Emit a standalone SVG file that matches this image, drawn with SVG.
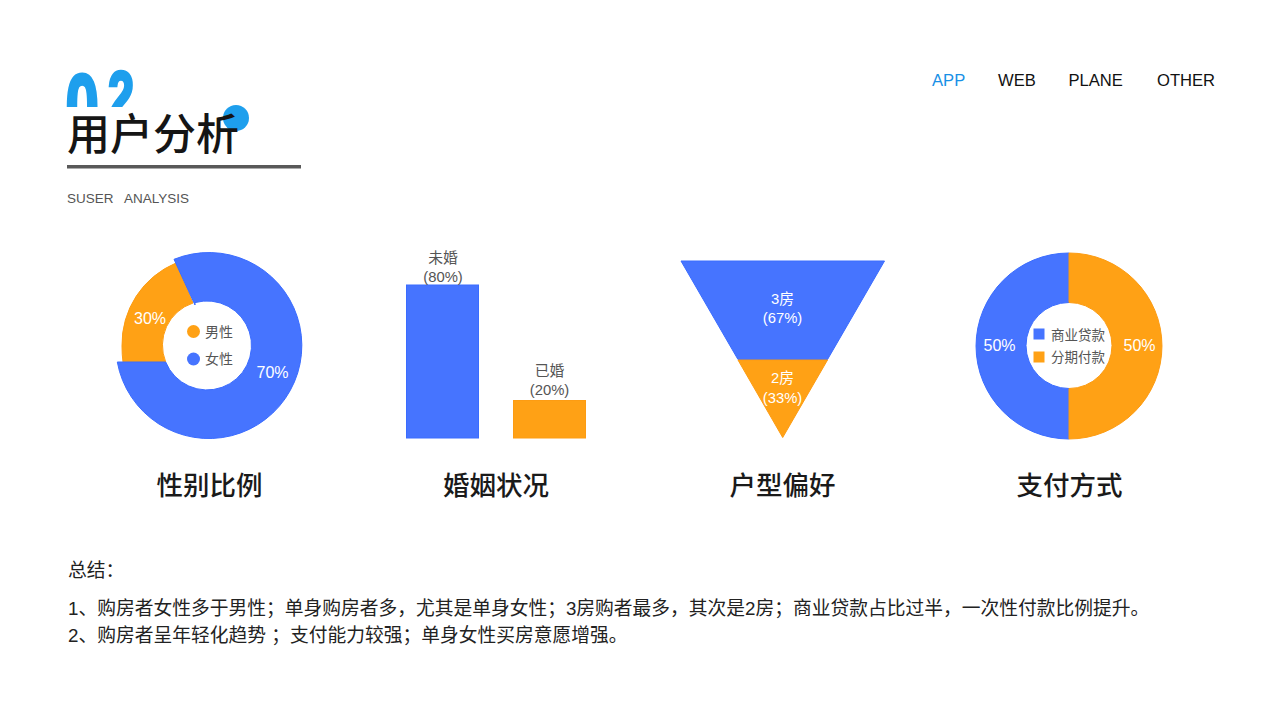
<svg xmlns="http://www.w3.org/2000/svg" width="1280" height="720" viewBox="0 0 1280 720">
<style>
text{font-family:"Liberation Sans","Noto Sans CJK SC",sans-serif}
.b{fill:#4674ff;stroke:#3a6cff;stroke-width:1}
.o{fill:#ffa115;stroke:#fd9c12;stroke-width:1}
.lg{font-size:14px;fill:#555}
.w{font-size:16px;fill:#fff}
.w2{font-size:14.8px;fill:#fff}
.g{font-size:14.8px;fill:#555}
.t{font-size:26.500px;fill:#1a1a1a;text-anchor:middle;font-weight:500}
.nav{font-size:16.600px;fill:#111}
.m{text-anchor:middle}
.s{font-size:18.750px;fill:#222}
</style>
<defs><clipPath id="logoClip"><rect x="60" y="40" width="90" height="31.300"/></clipPath></defs>
<g id="header">
<text transform="scale(1,1.500)" clip-path="url(#logoClip)" font-weight="700" fill="#1e9fed" stroke="#1e9fed" stroke-width="2.200" style="font-family:'Liberation Sans',sans-serif"><tspan x="65.500" y="92" font-size="60">0</tspan><tspan x="108" y="81" font-size="47">2</tspan></text>
<circle cx="236" cy="118" r="13" fill="#1e9fed"/>
<text x="67" y="150" font-size="43" font-weight="500" fill="#151515" style="font-family:'Noto Sans CJK SC',sans-serif">用户分析</text>
<rect x="67" y="165" width="234" height="3.500" fill="#595959"/>
<text x="67" y="203" font-size="13.500" fill="#555" xml:space="preserve">SUSER   ANALYSIS</text>
</g>
<g id="nav">
<text x="932" y="86" class="nav" style="fill:#1890e6">APP</text>
<text x="998" y="86" class="nav">WEB</text>
<text x="1068.500" y="86" class="nav">PLANE</text>
<text x="1157" y="86" class="nav">OTHER</text>
</g>
<g id="gender">
<path class="o" d="M176,263 A88 88 0 0 0 122,346 Q122,355 123,362 L165.700,362 A44.500 44.500 0 0 1 193,303 Z"/>
<path class="b" d="M174,259.300 A93 93 0 1 1 117.300,362 L165.700,362 A44.500 44.500 0 1 0 195,302.600 L195,305 Z"/>
<text x="150" y="324" class="w m">30%</text>
<text x="272.500" y="378" class="w m">70%</text>
<circle cx="193.500" cy="331.500" r="6.500" fill="#ffa115"/>
<circle cx="193.500" cy="359" r="6.500" fill="#4674ff"/>
<text x="205" y="337" class="lg">男性</text>
<text x="205" y="364" class="lg">女性</text>
<text x="209.500" y="495" class="t">性别比例</text>
</g>
<g id="marriage">
<rect class="b" x="406.500" y="285" width="72" height="153"/>
<rect class="o" x="513.500" y="400.500" width="72" height="37.500"/>
<text x="443" y="262.500" class="g m">未婚</text>
<text x="443" y="282" class="g m">(80%)</text>
<text x="549.500" y="375.500" class="g m">已婚</text>
<text x="549.500" y="395" class="g m">(20%)</text>
<text x="496" y="495" class="t">婚姻状况</text>
</g>
<g id="layout">
<path class="b" d="M681,261 H884.500 L827.500,359.500 H738 Z"/>
<path class="o" d="M738,360 H827.500 L782.700,437.500 Z"/>
<text x="782.500" y="303.500" class="w2 m">3房</text>
<text x="782.500" y="322.500" class="w2 m">(67%)</text>
<text x="782.500" y="383" class="w2 m">2房</text>
<text x="782.500" y="403" class="w2 m">(33%)</text>
<text x="782.500" y="495" class="t">户型偏好</text>
</g>
<g id="payment">
<path class="b" d="M1069,253 A93 93 0 0 0 1069,439 V388.500 A43 43 0 0 1 1069,302.500 Z"/>
<path class="o" d="M1069,253 A93 93 0 0 1 1069,439 V388.500 A43 43 0 0 0 1069,302.500 Z"/>
<text x="999.500" y="351" class="w m">50%</text>
<text x="1139.500" y="351" class="w m">50%</text>
<rect x="1033.500" y="328.500" width="11" height="11" fill="#4674ff"/>
<rect x="1033.500" y="351.500" width="11" height="11" fill="#ffa115"/>
<text x="1051" y="340" class="lg" style="font-size:13.500px">商业贷款</text>
<text x="1051" y="362" class="lg" style="font-size:13.500px">分期付款</text>
<text x="1069.500" y="495" class="t">支付方式</text>
</g>
<g id="summary">
<text x="68" y="577" class="s">总结：</text>
<text x="68" y="615" class="s">1、购房者女性多于男性；单身购房者多，尤其是单身女性；3房购者最多，其次是2房；商业贷款占比过半，一次性付款比例提升。</text>
<text x="68" y="642" class="s">2、购房者呈年轻化趋势 ；支付能力较强；单身女性买房意愿增强。</text>
</g>
</svg>
